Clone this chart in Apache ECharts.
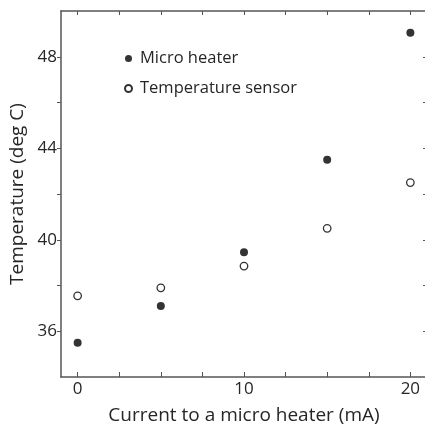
<!DOCTYPE html>
<html>
<head>
<meta charset="utf-8">
<script src="https://cdn.jsdelivr.net/npm/echarts@6/dist/echarts.min.js"></script>
<style>
  html, body { margin: 0; padding: 0; background: #fff; }
  #chart { width: 425px; height: 432px; }
</style>
</head>
<body>
<div id="chart"></div>
<script>
// current through the micro heater (mA)
var currents = [0, 5, 10, 15, 20];
// measured temperatures (deg C)
var heaterTemps = [35.5, 37.1, 39.45, 43.5, 49.05];
var sensorTemps = [37.55, 37.9, 38.85, 40.5, 42.5];
// axis ticks
var xTicks = [0, 2.5, 5, 7.5, 10, 12.5, 15, 17.5, 20];
var xLabels = [0, 10, 20];
var yTicks = [36, 38, 40, 42, 44, 46, 48];
var yLabels = [36, 40, 44, 48];

var font = 'Open Sans';
var axisColor = '#555';
var textColor = '#262626';

function pairs(xs, ys) {
  return xs.map(function (x, i) { return [x, ys[i]]; });
}

var chart = echarts.init(document.getElementById('chart'));
var option = {
  animation: false,
  textStyle: { fontFamily: font },
  // the right frame sits just past the image edge, as in the original
  grid: { left: 61, top: 11, width: 366, height: 366, outerBoundsMode: 'none' },
  legend: {
    orient: 'vertical',
    left: 119,
    top: 45,
    itemGap: 13,
    itemWidth: 7,
    itemHeight: 7,
    textStyle: { fontSize: 16.5, color: textColor, fontFamily: font, padding: [0, 0, 0, 3] },
    data: [
      { name: 'Micro heater', icon: 'circle' },
      { name: 'Temperature sensor', icon: 'circle' }
    ]
  },
  xAxis: [{
    type: 'value',
    min: -1,
    max: 21,
    name: 'Current to a micro heater (mA)',
    nameLocation: 'middle',
    nameGap: 29,
    nameTextStyle: { fontSize: 19, color: textColor },
    axisLine: { onZero: false, lineStyle: { color: axisColor, width: 1.5 } },
    axisTick: { inside: true, length: 5, customValues: xTicks, lineStyle: { color: axisColor } },
    axisLabel: { customValues: xLabels, fontSize: 17, color: textColor, margin: 4 },
    splitLine: { show: false }
  }, {
    type: 'value',
    position: 'top',
    min: -1,
    max: 21,
    axisLine: { onZero: false, lineStyle: { color: axisColor, width: 1.5 } },
    axisTick: { inside: true, length: 4, customValues: xTicks, lineStyle: { color: axisColor } },
    axisLabel: { show: false },
    splitLine: { show: false }
  }],
  yAxis: [{
    type: 'value',
    min: 34,
    max: 50,
    name: 'Temperature (deg C)',
    nameLocation: 'middle',
    nameGap: 33,
    nameTextStyle: { fontSize: 19, color: textColor },
    axisLine: { show: true, onZero: false, lineStyle: { color: axisColor, width: 1.5 } },
    axisTick: { show: true, length: 4, customValues: yTicks, lineStyle: { color: axisColor } },
    axisLabel: { customValues: yLabels, fontSize: 17, color: textColor, margin: 4 },
    splitLine: { show: false }
  }, {
    type: 'value',
    position: 'right',
    min: 34,
    max: 50,
    axisLine: { show: true, onZero: false, lineStyle: { color: axisColor, width: 1.5 } },
    axisTick: { show: true, inside: true, length: 4, customValues: yTicks, lineStyle: { color: axisColor } },
    axisLabel: { show: false },
    splitLine: { show: false }
  }],
  series: [{
    name: 'Micro heater',
    type: 'scatter',
    symbol: 'circle',
    symbolSize: 8,
    itemStyle: { color: '#000' },
    data: pairs(currents, heaterTemps)
  }, {
    name: 'Temperature sensor',
    type: 'scatter',
    symbol: 'circle',
    symbolSize: 7.5,
    itemStyle: { color: '#fff', borderColor: '#000', borderWidth: 1.3 },
    data: pairs(currents, sensorTemps)
  }]
};
chart.setOption(option);
</script>
</body>
</html>
